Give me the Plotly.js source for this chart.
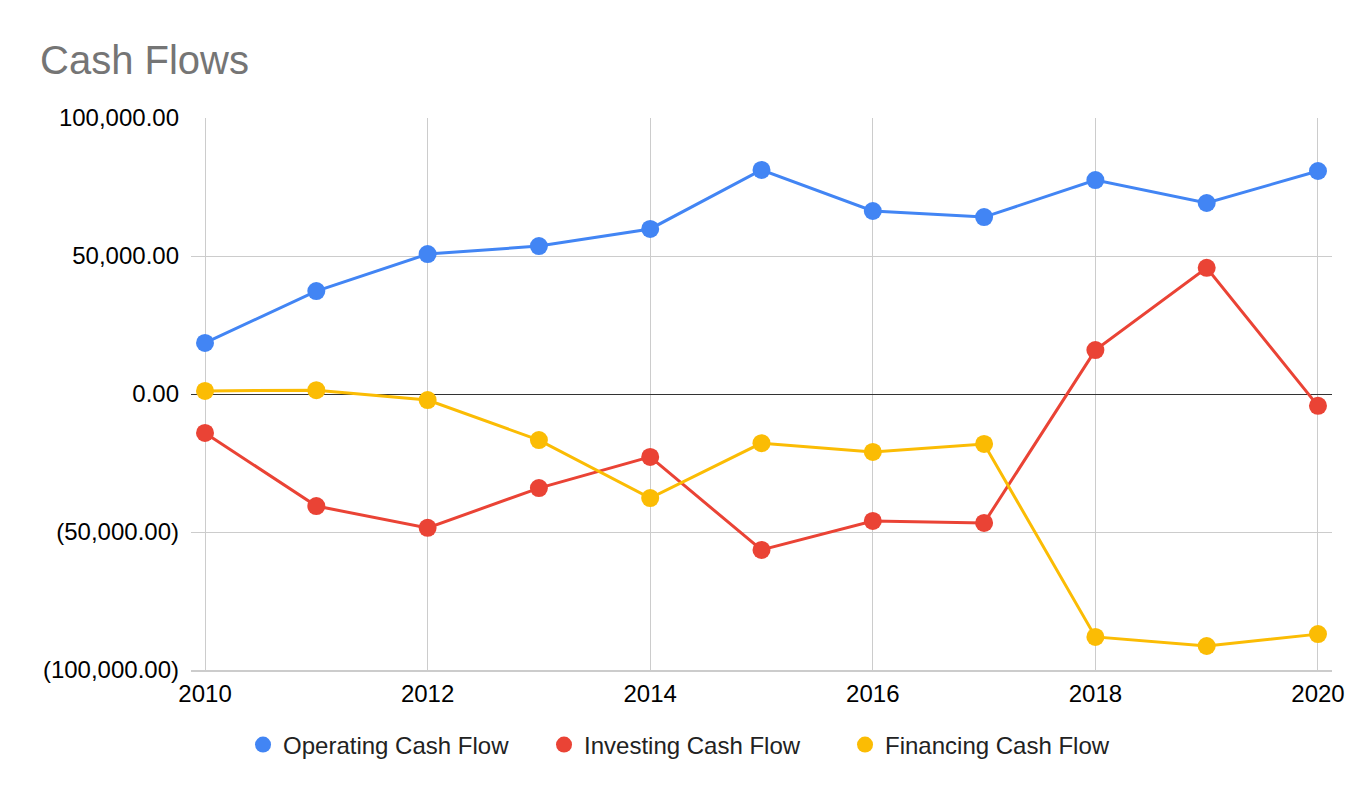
<!DOCTYPE html>
<html>
<head>
<meta charset="utf-8">
<script src="https://cdn.plot.ly/plotly-3.0.1.min.js"></script>
<style>
  body { margin: 0; background: #fff; }
  #myDiv { width: 1372px; height: 798px; }
</style>
</head>
<body>
<div id="myDiv"></div>
<script>
// chart values
var years = [2010, 2011, 2012, 2013, 2014, 2015, 2016, 2017, 2018, 2019, 2020];
var operating = [18500, 37300, 50700, 53600, 59800, 81200, 66300, 64100, 77500, 69200, 80800];
var investing = [-14100, -40600, -48500, -34100, -22800, -56500, -46000, -46700, 15900, 45700, -4300];
var financing = [1100, 1400, -2200, -16700, -37700, -17800, -21000, -18100, -88000, -91300, -87000];
var seriesNames = ["Operating Cash Flow", "Investing Cash Flow", "Financing Cash Flow"];
var yTickVals = [-100000, -50000, 0, 50000, 100000];
var yTickText = ["(100,000.00)", "(50,000.00)", "0.00", "50,000.00", "100,000.00"];
var xTickVals = [2010, 2012, 2014, 2016, 2018, 2020];

var colors = ["#4285f4", "#ea4335", "#fbbc04"];
var allSeries = [operating, investing, financing];

var data = [];
for (let i = 0; i < 3; i++) {
  data.push({
    type: "scatter",
    mode: "lines+markers",
    x: years,
    y: allSeries[i],
    name: seriesNames[i],
    line: {color: colors[i], width: 3},
    marker: {color: colors[i], size: 18},
    showlegend: false,
    cliponaxis: false
  });
}
// legend-only entries so the legend shows plain dots
for (let i = 0; i < 3; i++) {
  data.push({
    type: "scatter",
    mode: "markers",
    x: [null],
    y: [null],
    name: seriesNames[i],
    marker: {color: colors[i], size: 22},
    showlegend: true
  });
}

var layout = {
  width: 1372,
  height: 798,
  margin: {t: 118, b: 128, l: 191, r: 40},
  paper_bgcolor: "#ffffff",
  plot_bgcolor: "#ffffff",
  font: {family: "Liberation Sans, Arial, sans-serif", color: "#000000", size: 24},
  title: {
    text: "Cash Flows",
    x: 40 / 1372, xref: "container", xanchor: "left",
    y: 0.925, yref: "container", yanchor: "middle",
    pad: {l: 0},
    font: {size: 40, color: "#757575"}
  },
  xaxis: {
    range: [2009.874, 2020.126],
    tickvals: xTickVals,
    ticktext: xTickVals.map(String),
    showgrid: true,
    gridcolor: "#cccccc",
    gridwidth: 1.3,
    showline: true,
    linecolor: "#cccccc",
    linewidth: 2,
    zeroline: false,
    ticks: "",
    ticklabelstandoff: 1,
    tickfont: {size: 24}
  },
  yaxis: {
    range: [-100000, 100000],
    tickvals: yTickVals,
    ticktext: yTickText,
    showgrid: true,
    gridcolor: "#cccccc",
    gridwidth: 1.3,
    zeroline: true,
    zerolinecolor: "#333333",
    zerolinewidth: 1.3,
    showline: false,
    ticks: "",
    ticklabelstandoff: 11,
    tickfont: {size: 24}
  },
  legend: {
    orientation: "h",
    x: 0.0456, xanchor: "left",
    y: -0.095, yanchor: "top",
    font: {size: 24, color: "#222222"},
    itemsizing: "trace",
    entrywidth: 256,
    entrywidthmode: "pixels",
    tracegroupgap: 0
  }
};

Plotly.newPlot('myDiv', data, layout, {displayModeBar: false});
</script>
</body>
</html>
